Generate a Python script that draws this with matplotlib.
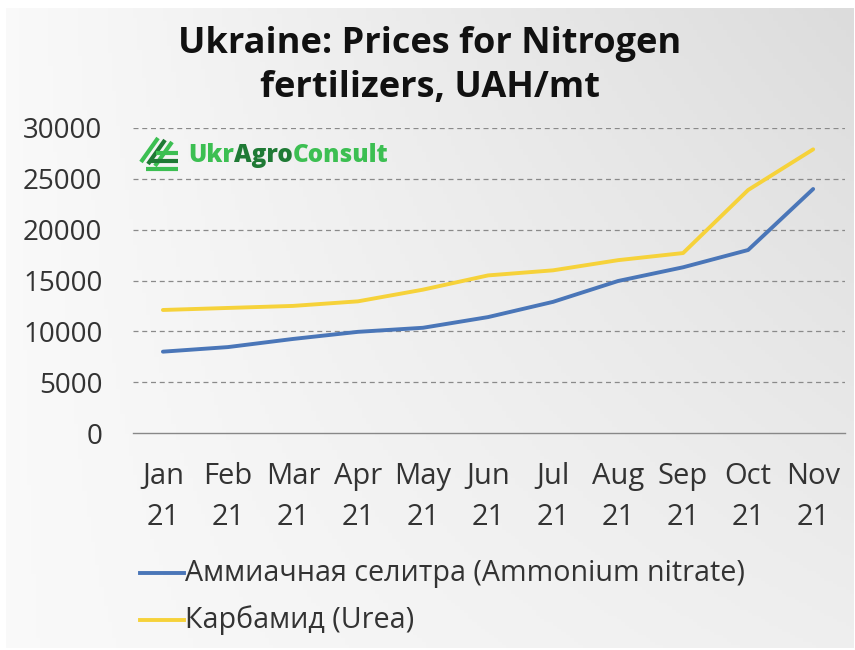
import numpy as np
import matplotlib
matplotlib.use("Agg")
import matplotlib.pyplot as plt
from matplotlib.lines import Line2D

plt.rcParams['font.family'] = ['Open Sans', 'DejaVu Sans']

months = ["Jan\n21", "Feb\n21", "Mar\n21", "Apr\n21", "May\n21", "Jun\n21",
          "Jul\n21", "Aug\n21", "Sep\n21", "Oct\n21", "Nov\n21"]
ammonium_nitrate = [8000, 8450, 9250, 9950, 10350, 11400, 12900, 14950, 16300, 18000, 24000]
urea = [12100, 12300, 12500, 12950, 14100, 15500, 16000, 17000, 17700, 23900, 27900]
series_names = ["Аммиачная селитра (Ammonium nitrate)", "Карбамид (Urea)"]
yticks = [0, 5000, 10000, 15000, 20000, 25000, 30000]
title = "Ukraine: Prices for Nitrogen\nfertilizers, UAH/mt"

W, H = 855, 650
fig = plt.figure(figsize=(W / 100, H / 100), dpi=100)
fig.patch.set_facecolor("white")

# background gradient
bg = fig.add_axes([6 / W, 2 / H, (W - 8) / W, (H - 10) / H])
yy, xx = np.mgrid[0:1:200j, 0:1:200j]
grad = 0.978 - 0.085 * xx * (1 - 0.5 * yy) - 0.03 * (1 - yy) * xx
bg.imshow(np.dstack([grad] * 3), aspect="auto", extent=[0, 1, 0, 1], origin="upper")
bg.set_axis_off()

ax = fig.add_axes([133 / W, (H - 433) / H, (845 - 133) / W, (433 - 128) / H])
ax.set_facecolor("none")
x = np.arange(len(months))
ax.plot(x, ammonium_nitrate, color="#4a76b8", lw=2.8, solid_capstyle="round", zorder=3)
ax.plot(x, urea, color="#f6d23a", lw=2.8, solid_capstyle="round", zorder=3)
ax.set_ylim(0, 30000)
ax.set_xlim(-0.46, 10.49)
ax.set_yticks(yticks)
ax.set_yticklabels([str(v) for v in yticks])
ax.set_xticks(x)
ax.set_xticklabels(months, linespacing=1.55)
for s in ["top", "right", "left"]:
    ax.spines[s].set_visible(False)
ax.spines["bottom"].set_color("#888888")
ax.spines["bottom"].set_linewidth(1.0)
ax.tick_params(axis="both", length=0, colors="#333333")
ax.tick_params(axis="y", pad=22, labelsize=20)
ax.tick_params(axis="x", pad=21, labelsize=21)
for v in yticks[1:]:
    ax.axhline(v, color="#8a8a8a", lw=0.9, ls=(0, (4, 3)), zorder=1)

# title
fig.text(0.503, 1 - 66 / H, title, ha="center", va="center", fontsize=26,
         fontweight="bold", color="#111111", linespacing=1.33)

# legend
leg_items = [(series_names[0], "#4a76b8", 573), (series_names[1], "#f6d23a", 620)]
for name, col, yp in leg_items:
    fig.add_artist(Line2D([140 / W, 184 / W], [1 - yp / H, 1 - yp / H], color=col, lw=2.8))
    fig.text(185 / W, 1 - yp / H, name, ha="left", va="center", fontsize=20.6, color="#333333")

# logo
lg_light = "#3cbf52"
lg_dark = "#1f7a35"
for i, c in enumerate([lg_light, lg_dark, lg_light]):
    fig.add_artist(Line2D([(141 + 7 * i) / W, (158 + 7 * i) / W],
                          [1 - (162 + 2 * i) / H, 1 - (138 + 2 * i) / H],
                          color=c, lw=3.0, solid_capstyle="butt"))
for j, yp in enumerate([153, 161, 169]):
    fig.add_artist(Line2D([(156 - 5 * j) / W, 178 / W], [1 - yp / H, 1 - yp / H],
                          color=lg_dark if j == 1 else lg_light, lw=3.0, solid_capstyle="butt"))
ly = 1 - 155 / H
t1 = fig.text(188 / W, ly, "Ukr", ha="left", va="center", fontsize=17.5,
              fontweight="heavy", color=lg_light)
fig.canvas.draw()
r = fig.canvas.get_renderer()
bb = t1.get_window_extent(r)
t2 = fig.text(bb.x1 / W, ly, "Agro", ha="left", va="center", fontsize=17.5,
              fontweight="heavy", color=lg_dark)
bb2 = t2.get_window_extent(r)
fig.text(bb2.x1 / W, ly, "Consult", ha="left", va="center", fontsize=17.5,
         fontweight="heavy", color=lg_light)

fig.savefig("out.png", dpi=100)
